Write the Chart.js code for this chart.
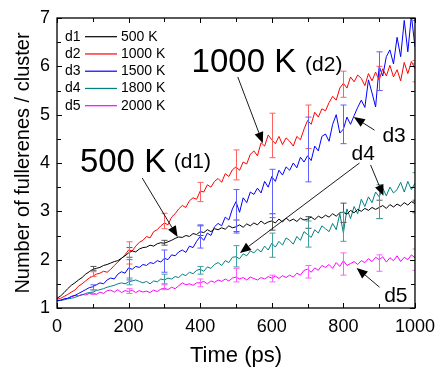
<!DOCTYPE html>
<html>
<head>
<meta charset="utf-8">
<script src="https://cdn.jsdelivr.net/npm/chart.js@4.4.1/dist/chart.umd.min.js"></script>
<style>
html,body{margin:0;padding:0;background:#fff;}
canvas{display:block;}
</style>
</head>
<body>
<canvas id="c" width="443" height="370"></canvas>
<script>
// ---- data ----
const times = [];
for (let t = 0; t <= 1000; t += 10) times.push(t);

const seriesNames = ['d1', 'd2', 'd3', 'd4', 'd5'];
const seriesTemps = ['500 K', '1000 K', '1500 K', '1800 K', '2000 K'];
const seriesColors = ['#000000', '#ff0000', '#0000ff', '#008080', '#ff00ff'];
const errColors = ['#555555', '#ff6060', '#6060ff', '#40a0a0', '#ff60ff'];

const d1 = [1.20,1.25,1.32,1.40,1.47,1.52,1.58,1.63,1.70,1.75,1.80,1.82,1.84,1.88,1.90,1.93,1.96,1.98,2.03,2.08,
2.14,2.18,2.16,2.22,2.25,2.26,2.30,2.28,2.33,2.35,2.34,2.37,2.40,2.44,2.47,2.46,2.50,2.48,2.54,2.52,
2.58,2.56,2.62,2.58,2.64,2.62,2.66,2.63,2.70,2.66,2.68,2.72,2.67,2.74,2.70,2.76,2.72,2.80,2.74,2.78,
2.80,2.76,2.84,2.78,2.86,2.80,2.84,2.79,2.86,2.82,2.84,2.88,2.83,2.90,2.86,2.92,2.88,2.95,2.90,2.97,
2.98,2.94,3.02,2.97,3.04,3.00,3.06,3.02,3.08,3.04,3.08,3.12,3.06,3.14,3.09,3.15,3.11,3.18,3.13,3.20,3.16];

const d2 = [1.18,1.20,1.24,1.28,1.33,1.37,1.45,1.50,1.56,1.62,1.66,1.70,1.72,1.76,1.74,1.80,1.88,1.95,2.02,2.10,
2.20,2.18,2.28,2.36,2.40,2.48,2.45,2.58,2.62,2.70,2.76,2.72,2.88,2.95,3.05,3.12,3.08,3.22,3.28,3.25,
3.42,3.40,3.55,3.50,3.62,3.68,3.60,3.78,3.72,3.86,3.92,3.85,4.02,3.98,4.18,4.25,4.15,4.42,4.35,4.58,
4.48,4.40,4.55,4.38,4.52,4.45,4.35,4.55,4.48,4.70,4.88,4.80,5.05,4.95,5.12,5.08,5.25,5.38,5.30,5.55,
5.65,5.55,5.78,5.68,5.82,5.75,5.60,5.85,5.70,5.88,5.72,5.95,5.80,6.02,5.78,5.93,5.70,6.08,5.85,6.10,5.95];

const d3 = [1.15,1.16,1.19,1.20,1.24,1.26,1.30,1.34,1.38,1.42,1.44,1.48,1.52,1.50,1.58,1.62,1.60,1.70,1.75,1.72,
1.83,1.80,1.86,1.84,1.90,1.88,1.94,1.92,1.98,1.95,2.03,2.00,2.10,2.08,2.16,2.20,2.15,2.28,2.25,2.38,
2.48,2.40,2.55,2.50,2.68,2.75,2.70,2.88,2.82,3.05,3.20,2.98,3.28,3.18,3.40,3.35,3.48,3.38,3.62,3.50,
3.72,3.62,3.85,3.75,3.92,3.85,4.00,3.90,4.12,4.02,4.15,4.05,4.35,4.25,4.55,4.60,4.45,4.80,5.00,4.62,
4.70,4.95,4.80,4.98,5.15,5.30,5.15,5.72,5.45,5.16,6.00,5.80,6.20,6.34,6.05,6.60,6.20,6.95,6.30,7.05,6.40];

const d4 = [1.15,1.16,1.17,1.19,1.20,1.22,1.25,1.27,1.30,1.32,1.33,1.36,1.38,1.40,1.43,1.45,1.47,1.50,1.52,1.50,
1.54,1.56,1.58,1.55,1.52,1.55,1.50,1.56,1.54,1.60,1.58,1.62,1.60,1.65,1.63,1.70,1.67,1.74,1.71,1.78,
1.80,1.76,1.85,1.82,1.90,1.94,1.88,1.98,1.94,2.05,2.06,2.02,2.12,2.08,2.18,2.14,2.22,2.16,2.28,2.20,
2.34,2.26,2.38,2.30,2.45,2.40,2.32,2.48,2.40,2.58,2.52,2.46,2.62,2.55,2.70,2.64,2.58,2.75,2.62,2.95,
2.55,3.05,2.85,3.10,2.95,3.25,3.10,3.30,3.18,3.40,3.30,3.48,3.32,3.50,3.38,3.45,3.60,3.40,3.62,3.45,3.58];

const d5 = [1.15,1.16,1.18,1.20,1.23,1.26,1.25,1.28,1.27,1.30,1.31,1.28,1.33,1.30,1.36,1.37,1.33,1.38,1.32,1.36,
1.34,1.37,1.32,1.36,1.33,1.35,1.32,1.37,1.34,1.39,1.41,1.38,1.43,1.40,1.46,1.52,1.48,1.50,1.47,1.52,
1.52,1.55,1.50,1.56,1.53,1.58,1.55,1.60,1.56,1.62,1.64,1.60,1.63,1.58,1.64,1.61,1.58,1.63,1.60,1.65,
1.62,1.66,1.61,1.67,1.63,1.68,1.64,1.72,1.68,1.78,1.80,1.74,1.83,1.78,1.88,1.84,1.90,1.82,1.94,1.86,
1.98,1.88,1.92,1.96,1.90,1.98,1.94,2.02,1.96,2.05,2.00,2.06,1.95,2.04,1.98,2.08,1.96,2.05,2.00,2.10,2.04];

// error bars at every 100 ps
const errTimes = [100,200,300,400,500,600,700,800,900,1000];
const e1c = [1.82,2.15,2.35,2.60,2.70,2.78,2.77,2.97,3.04,3.10];
const e1e = [0.04,0.10,0.05,0.10,0.12,0.17,0.12,0.20,0.19,0.13];
const e2c = [1.70,2.14,2.80,3.40,3.96,4.57,4.75,5.63,5.75,5.90];
const e2e = [0.05,0.23,0.16,0.20,0.31,0.46,0.45,0.27,0.25,0.22];
const e3c = [1.43,1.79,1.97,2.48,3.00,3.37,4.28,4.80,5.90,6.50];
const e3e = [0.05,0.21,0.23,0.24,0.45,0.50,0.67,0.40,0.40,0.45];
const e4c = [1.33,1.55,1.60,1.78,2.07,2.30,2.53,2.68,3.20,3.50];
const e4e = [0.04,0.07,0.10,0.08,0.22,0.25,0.27,0.30,0.35,0.30];
const e5c = [1.33,1.35,1.43,1.52,1.68,1.61,1.75,1.91,1.93,2.00];
const e5e = [0.05,0.05,0.05,0.08,0.14,0.07,0.13,0.23,0.17,0.22];

const xTicks = [0, 200, 400, 600, 800, 1000];
const yTicks = [1, 2, 3, 4, 5, 6, 7];

const seriesVals = [d1, d2, d3, d4, d5];
const errCenters = [e1c, e2c, e3c, e4c, e5c];
const errHalf = [e1e, e2e, e3e, e4e, e5e];

// annotations in data coordinates
const annTexts = [
  {text: '1000 K', x: 376, y: 5.88, size: 33},
  {text: '(d2)', x: 693, y: 5.90, size: 21},
  {text: '500 K', x: 64, y: 3.81, size: 33},
  {text: '(d1)', x: 326, y: 3.90, size: 21},
  {text: 'd3', x: 909, y: 4.43, size: 21},
  {text: 'd4', x: 823, y: 4.06, size: 21},
  {text: 'd5', x: 914, y: 1.12, size: 21}
];
const annArrows = [
  [505, 5.78, 575, 4.41],
  [238, 3.69, 337, 2.47],
  [887, 4.68, 829, 4.95],
  [845, 4.00, 511, 2.14],
  [876, 3.96, 912, 3.32],
  [901, 1.43, 837, 1.83]
];

const FONT = '"Liberation Sans", Arial, Helvetica, sans-serif';

const extras = {
  id: 'extras',
  afterDatasetsDraw(chart) {
    const ctx = chart.ctx, xs = chart.scales.x, ys = chart.scales.y, a = chart.chartArea;
    ctx.save();
    ctx.beginPath();
    ctx.rect(a.left, a.top, a.right - a.left, a.bottom - a.top);
    ctx.clip();
    ctx.lineWidth = 1;
    for (let s = 0; s < 5; s++) {
      ctx.strokeStyle = errColors[s];
      for (let i = 0; i < errTimes.length; i++) {
        const px = Math.round(xs.getPixelForValue(errTimes[i])) + 0.5;
        const y1 = ys.getPixelForValue(errCenters[s][i] - errHalf[s][i]);
        const y2 = ys.getPixelForValue(errCenters[s][i] + errHalf[s][i]);
        ctx.beginPath();
        ctx.moveTo(px, y1); ctx.lineTo(px, y2);
        ctx.moveTo(px - 3, y1); ctx.lineTo(px + 3, y1);
        ctx.moveTo(px - 3, y2); ctx.lineTo(px + 3, y2);
        ctx.stroke();
      }
    }
    ctx.restore();
  },
  afterDraw(chart) {
    const ctx = chart.ctx, xs = chart.scales.x, ys = chart.scales.y, a = chart.chartArea;
    ctx.save();
    // frame
    ctx.strokeStyle = '#000';
    ctx.lineWidth = 1.3;
    ctx.strokeRect(a.left, a.top, a.right - a.left, a.bottom - a.top);
    // ticks
    ctx.lineWidth = 1;
    ctx.beginPath();
    for (let t = 0; t <= 1000; t += 100) {
      const px = Math.round(xs.getPixelForValue(t)) + 0.5;
      const L = (t % 200 === 0) ? 5 : 4;
      ctx.moveTo(px, a.bottom); ctx.lineTo(px, a.bottom - L);
      ctx.moveTo(px, a.top); ctx.lineTo(px, a.top + L);
    }
    for (let v = 1; v <= 7.001; v += 0.5) {
      const py = Math.round(ys.getPixelForValue(v)) + 0.5;
      const L = (Math.abs(v - Math.round(v)) < 1e-6) ? 5 : 4;
      ctx.moveTo(a.left, py); ctx.lineTo(a.left + L, py);
      ctx.moveTo(a.right, py); ctx.lineTo(a.right - L, py);
    }
    ctx.stroke();

    // legend
    ctx.font = '14px ' + FONT;
    ctx.textBaseline = 'middle';
    ctx.textAlign = 'left';
    for (let s = 0; s < 5; s++) {
      const cy = a.top + 18.7 + s * 17.25;
      ctx.fillStyle = '#000';
      ctx.fillText(seriesNames[s], a.left + 8, cy);
      ctx.strokeStyle = seriesColors[s];
      ctx.lineWidth = 1.2;
      ctx.beginPath();
      ctx.moveTo(a.left + 28, cy); ctx.lineTo(a.left + 60, cy);
      ctx.stroke();
      ctx.fillText(seriesTemps[s], a.left + 64, cy);
    }

    // annotation arrows
    ctx.strokeStyle = '#000';
    ctx.fillStyle = '#000';
    ctx.lineWidth = 0.9;
    for (const ar of annArrows) {
      const x1 = xs.getPixelForValue(ar[0]), y1 = ys.getPixelForValue(ar[1]);
      const x2 = xs.getPixelForValue(ar[2]), y2 = ys.getPixelForValue(ar[3]);
      const ang = Math.atan2(y2 - y1, x2 - x1);
      const hl = 11, hw = 4.5;
      const bx = x2 - hl * Math.cos(ang), by = y2 - hl * Math.sin(ang);
      ctx.beginPath();
      ctx.moveTo(x1, y1); ctx.lineTo(bx, by);
      ctx.stroke();
      ctx.beginPath();
      ctx.moveTo(x2, y2);
      ctx.lineTo(bx + hw * Math.sin(ang), by - hw * Math.cos(ang));
      ctx.lineTo(bx - hw * Math.sin(ang), by + hw * Math.cos(ang));
      ctx.closePath();
      ctx.fill();
    }
    // annotation texts
    ctx.textBaseline = 'alphabetic';
    ctx.textAlign = 'left';
    for (const t of annTexts) {
      ctx.font = t.size + 'px ' + FONT;
      ctx.fillText(t.text, xs.getPixelForValue(t.x), ys.getPixelForValue(t.y));
    }
    ctx.restore();
  }
};

const datasets = seriesVals.map((vals, s) => ({
  label: seriesNames[s] + ' ' + seriesTemps[s],
  data: times.map((t, i) => ({x: t, y: vals[i]})),
  borderColor: seriesColors[s],
  backgroundColor: seriesColors[s],
  borderWidth: 1,
  pointRadius: 0,
  tension: 0,
  fill: false
}));

new Chart(document.getElementById('c'), {
  type: 'line',
  data: {datasets},
  options: {
    responsive: false,
    animation: false,
    events: [],
    layout: {padding: {top: 18, right: 24, left: 0, bottom: 0}},
    scales: {
      x: {
        type: 'linear', min: 0, max: 1000,
        afterBuildTicks(s) { s.ticks = xTicks.map(v => ({value: v})); },
        afterFit(s) { s.height = 62; },
        grid: {display: false, drawTicks: false},
        border: {display: false},
        ticks: {color: '#000', font: {family: FONT, size: 18}, padding: 8, maxRotation: 0, autoSkip: false,
                callback: v => String(v)},
        title: {display: true, text: 'Time (ps)', color: '#000', font: {family: FONT, size: 22}, padding: {top: 0, bottom: 1}}
      },
      y: {
        type: 'linear', min: 1, max: 7,
        afterBuildTicks(s) { s.ticks = yTicks.map(v => ({value: v})); },
        afterFit(s) { s.width = 57; },
        grid: {display: false, drawTicks: false},
        border: {display: false},
        ticks: {color: '#000', font: {family: FONT, size: 18}, padding: 7, callback: v => String(v)},
        title: {display: true, text: 'Number of fullerenes / cluster', color: '#000', font: {family: FONT, size: 20}, padding: {top: 11, bottom: 0}}
      }
    },
    plugins: {legend: {display: false}, tooltip: {enabled: false}}
  },
  plugins: [extras]
});
</script>
</body>
</html>
